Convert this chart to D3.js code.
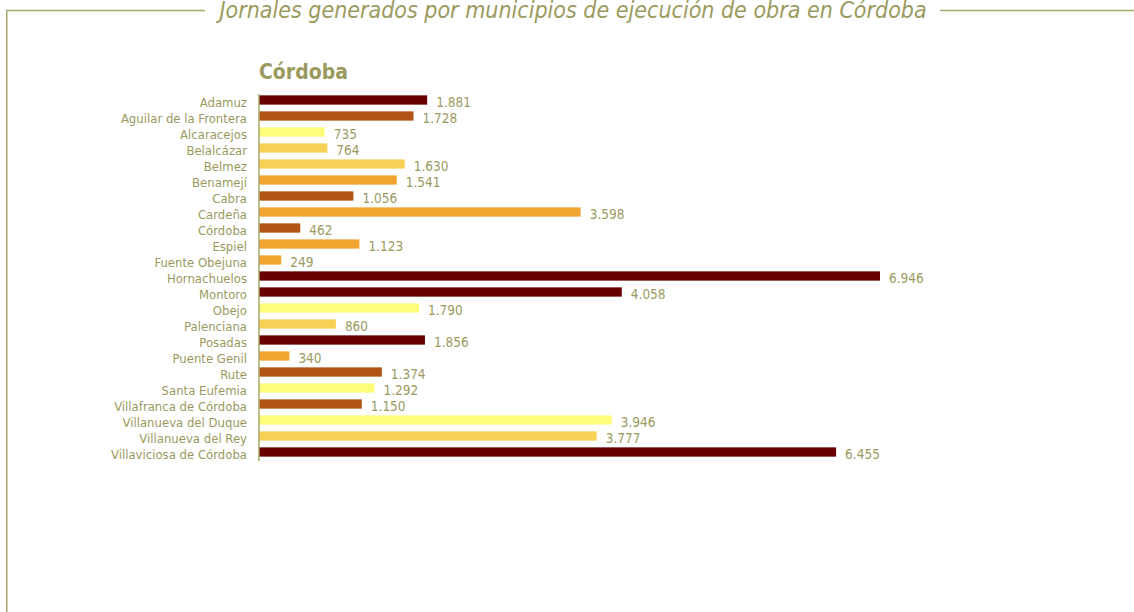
<!DOCTYPE html>
<html>
<head>
<meta charset="utf-8">
<script src="https://cdn.jsdelivr.net/npm/d3@7"></script>
<style>
  body { margin: 0; background: #fff; }
  svg { display: block; }
  text { font-family: "Liberation Sans Narrow", "DejaVu Sans Condensed", "Liberation Sans", sans-serif; fill: #9b9a5e; }
</style>
</head>
<body>
<svg id="container" width="1134" height="612"></svg>
<script>
const municipios = [
  "Adamuz", "Aguilar de la Frontera", "Alcaracejos", "Belalcázar", "Belmez",
  "Benamejí", "Cabra", "Cardeña", "Córdoba", "Espiel", "Fuente Obejuna",
  "Hornachuelos", "Montoro", "Obejo", "Palenciana", "Posadas", "Puente Genil",
  "Rute", "Santa Eufemia", "Villafranca de Córdoba", "Villanueva del Duque",
  "Villanueva del Rey", "Villaviciosa de Córdoba"
];
const jornales = [
  1881, 1728, 735, 764, 1630, 1541, 1056, 3598, 462, 1123, 249,
  6946, 4058, 1790, 860, 1856, 340, 1374, 1292, 1150, 3946, 3777, 6455
];
// colour group of each bar, as in the original
const grupos = [
  "a", "b", "c", "d", "d", "e", "b", "e", "b", "e", "e",
  "a", "a", "c", "d", "a", "e", "b", "c", "b", "c", "d", "a"
];
const grupoKeys = ["a", "b", "c", "d", "e"];
const grupoColors = ["#690000", "#b05516", "#fffc7a", "#fad157", "#f2a631"];

const titulo = "Jornales generados por municipios de ejecución de obra en Córdoba";
const subtitulo = "Córdoba";

function dograph() {
    let svg = d3.select("#container"),
        width = +svg.attr("width"),
        height = +svg.attr("height");

    let margin = {top: 92, left: 259};
    let step = 16;

    let x = d3.scaleLinear()
        .domain([0, 6946])
        .range([margin.left, 880]);

    let y = d3.scaleBand()
        .domain(municipios)
        .range([margin.top, margin.top + step * municipios.length])
        .paddingInner(0.42)
        .paddingOuter(0.21);

    let color = d3.scaleOrdinal().domain(grupoKeys).range(grupoColors);

    let fmt = d3.formatLocale({decimal: ",", thousands: ".", grouping: [3], currency: ["", "€"]}).format(",d");

    // frame
    let frame = "#a8a66c";
    svg.append("path")
        .attr("d", "M205,10.5 H6.75 V612")
        .attr("fill", "none")
        .attr("stroke", frame)
        .attr("stroke-width", 1.5);
    svg.append("line")
        .attr("x1", 940).attr("x2", width)
        .attr("y1", 10.5).attr("y2", 10.5)
        .attr("stroke", frame)
        .attr("stroke-width", 1.5);

    svg.append("text")
        .attr("x", 573)
        .attr("y", 18)
        .attr("text-anchor", "middle")
        .style("font-style", "italic")
        .style("font-size", "23px")
        .text(titulo);

    svg.append("text")
        .attr("x", 259)
        .attr("y", 79)
        .style("font-weight", "bold")
        .style("font-size", "21px")
        .text(subtitulo);

    svg.append("g")
        .selectAll("rect")
        .data(jornales)
        .enter().append("rect")
        .attr("x", x(0))
        .attr("y", function(d, i) { return y(municipios[i]); })
        .attr("width", function(d) { return x(d) - x(0); })
        .attr("height", y.bandwidth())
        .attr("fill", function(d, i) { return color(grupos[i]); });

    svg.append("g")
        .selectAll("text")
        .data(jornales)
        .enter().append("text")
        .attr("x", function(d) { return x(d) + 9; })
        .attr("y", function(d, i) { return y(municipios[i]) + y.bandwidth() / 2 + 6.5; })
        .style("font-size", "13.5px")
        .text(function(d) { return fmt(d); });

    let axis = svg.append("g")
        .attr("transform", "translate(" + x(0) + ",0)")
        .call(d3.axisLeft(y).tickSize(0).tickPadding(12));
    axis.select(".domain")
        .attr("stroke", frame)
        .attr("stroke-width", 1.5)
        .attr("d", "M0," + (margin.top + 2) + "V" + (margin.top + step * municipios.length + 1));
    axis.selectAll("text")
        .attr("dy", "0.55em")
        .attr("fill", "#9b9a5e")
        .style("font-size", "13px")
        .style("font-family", null);
}

document.addEventListener("DOMContentLoaded", dograph);
</script>
</body>
</html>
